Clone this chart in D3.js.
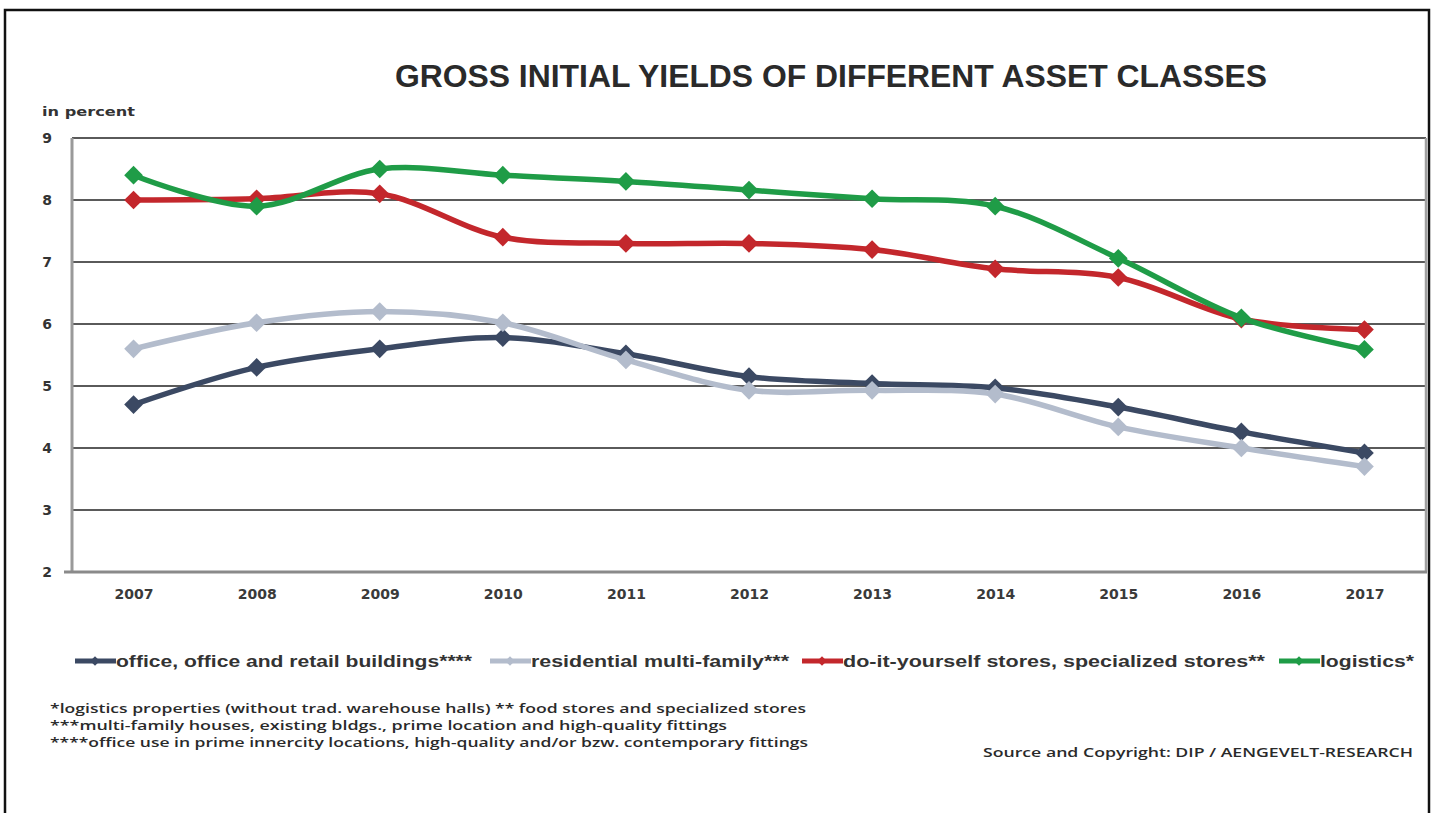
<!DOCTYPE html>
<html><head><meta charset="utf-8">
<script src="https://cdn.jsdelivr.net/npm/d3@7"></script>
<style>body{margin:0;background:#fff}svg{display:block}</style>
</head><body>
<svg id="c" width="1437" height="813"></svg>
<script>
const years = ["2007","2008","2009","2010","2011","2012","2013","2014","2015","2016","2017"];
const office = [4.7,5.3,5.6,5.78,5.52,5.15,5.04,4.97,4.66,4.26,3.92];
const residential = [5.6,6.02,6.2,6.02,5.42,4.93,4.93,4.87,4.34,4.0,3.7];
const diy = [8.0,8.02,8.1,7.4,7.3,7.3,7.2,6.89,6.75,6.08,5.91];
const logistics = [8.4,7.9,8.5,8.4,8.3,8.16,8.02,7.9,7.06,6.1,5.59];
const yTicks = [2,3,4,5,6,7,8,9];
const seriesNames = ["office, office and retail buildings****","residential multi-family***","do-it-yourself stores, specialized stores**","logistics*"];
const seriesColors = ["#3b4963","#b3bccc","#c3272c","#1f9c47"];
const footnotes = ["*logistics properties (without trad. warehouse halls)  ** food stores and specialized stores",
"***multi-family houses, existing bldgs., prime location and high-quality fittings",
"****office use in prime innercity locations, high-quality and/or bzw. contemporary fittings"];
const titleText = "GROSS INITIAL YIELDS OF DIFFERENT ASSET CLASSES";
const sourceText = "Source and Copyright: DIP / AENGEVELT-RESEARCH";

const svg = d3.select("#c");
const L=72,R=1426,T=138,B=572;
const x = d3.scalePoint().domain(years).range([L,R]).padding(0.5);
const y = d3.scaleLinear().domain([2,9]).range([B,T]);
const SANS = "Liberation Sans, Arial, sans-serif";
const WIDE = "DejaVu Sans, sans-serif";

function fit(sel,w){const n=sel.node();const l=n.getComputedTextLength();const fs=parseFloat(sel.attr("font-size"));sel.attr("font-size",(fs*w/l).toFixed(2));}
function stretch(sel,w){sel.attr("textLength",w).attr("lengthAdjust","spacingAndGlyphs");}

// outer frame
svg.append("rect").attr("x",5).attr("y",10).attr("width",1424).attr("height",820).attr("fill","none").attr("stroke","#111").attr("stroke-width",2.5);

// title
const t = svg.append("text").attr("x",831).attr("y",87).attr("text-anchor","middle").attr("font-family",SANS).attr("font-weight","bold").attr("font-size",28).attr("fill","#2a2a2a").text(titleText);
fit(t,872);

const ip = svg.append("text").attr("x",42).attr("y",116).attr("font-family",WIDE).attr("font-weight","bold").attr("font-size",13).attr("fill","#333").text("in percent");
stretch(ip,93);

// gridlines
const g = svg.append("g");
g.selectAll("line.grid").data(yTicks.filter(d=>d>2)).join("line").attr("x1",L).attr("x2",R).attr("y1",d=>y(d)).attr("y2",d=>y(d)).attr("stroke","#5a5a5a").attr("stroke-width",2);
// plot borders
g.append("line").attr("x1",L).attr("x2",L).attr("y1",T).attr("y2",B).attr("stroke","#9a9a9a").attr("stroke-width",3);
g.append("line").attr("x1",R).attr("x2",R).attr("y1",T).attr("y2",B).attr("stroke","#a0a0a0").attr("stroke-width",2.5);
g.append("line").attr("x1",L-8).attr("x2",R+1).attr("y1",B).attr("y2",B).attr("stroke","#8a8a8a").attr("stroke-width",3);

// axes
const yAxis = svg.append("g").attr("transform",`translate(${L},0)`).call(d3.axisLeft(y).tickValues(yTicks).tickSize(0).tickPadding(22).tickFormat(d3.format("d")));
yAxis.select(".domain").remove();
yAxis.selectAll("text").attr("font-family",WIDE).attr("font-weight","bold").attr("font-size",14).attr("fill","#333").attr("text-anchor","middle").attr("dx","-3");
const xAxis = svg.append("g").attr("transform",`translate(0,${B})`).call(d3.axisBottom(x).tickSize(0).tickPadding(17));
xAxis.select(".domain").remove();
xAxis.selectAll("text").attr("font-family",WIDE).attr("font-weight","bold").attr("font-size",14).attr("fill","#3a3a3a");

// series
const data = [office,residential,diy,logistics];
const line = d3.line().x((d,i)=>x(years[i])).y(d=>y(d)).curve(d3.curveCatmullRom.alpha(0.5));
const diamond = d3.symbol().type(d3.symbolSquare).size(175);
data.forEach((vals,k)=>{
  const gs = svg.append("g");
  gs.append("path").datum(vals).attr("d",line).attr("fill","none").attr("stroke",seriesColors[k]).attr("stroke-width",5.5).attr("stroke-linejoin","round");
  gs.selectAll("path.m").data(vals).join("path").attr("class","m").attr("d",diamond).attr("fill",seriesColors[k])
    .attr("transform",(d,i)=>`translate(${x(years[i])},${y(d)}) rotate(45)`);
});

// legend
const legX = [75,490,802,1279];
const legW = [356,258,422,94];
seriesNames.forEach((n,k)=>{
  const lg = svg.append("g").attr("transform",`translate(${legX[k]},661)`);
  lg.append("line").attr("x1",0).attr("x2",41).attr("y1",0).attr("y2",0).attr("stroke",seriesColors[k]).attr("stroke-width",5);
  lg.append("path").attr("d",d3.symbol().type(d3.symbolSquare).size(45)).attr("fill",seriesColors[k]).attr("transform","translate(20,0) rotate(45)");
  const tx = lg.append("text").attr("x",41).attr("y",6).attr("font-family",SANS).attr("font-weight","bold").attr("font-size",17).attr("fill","#333").text(n);
  stretch(tx,legW[k]);
});

// footnotes
const fw=[756,677,758];
footnotes.forEach((f,i)=>{
  const ft = svg.append("text").attr("x",50).attr("y",713+i*17).attr("font-family","Open Sans, sans-serif").attr("font-weight",600).attr("font-size",13).attr("fill","#2a2a2a").text(f);
  stretch(ft,fw[i]);
});
const st = svg.append("text").attr("x",1413).attr("y",757).attr("text-anchor","end").attr("font-family","Open Sans, sans-serif").attr("font-weight",600).attr("font-size",13).attr("fill","#2a2a2a").text(sourceText);
stretch(st,430);
</script>
</body></html>
